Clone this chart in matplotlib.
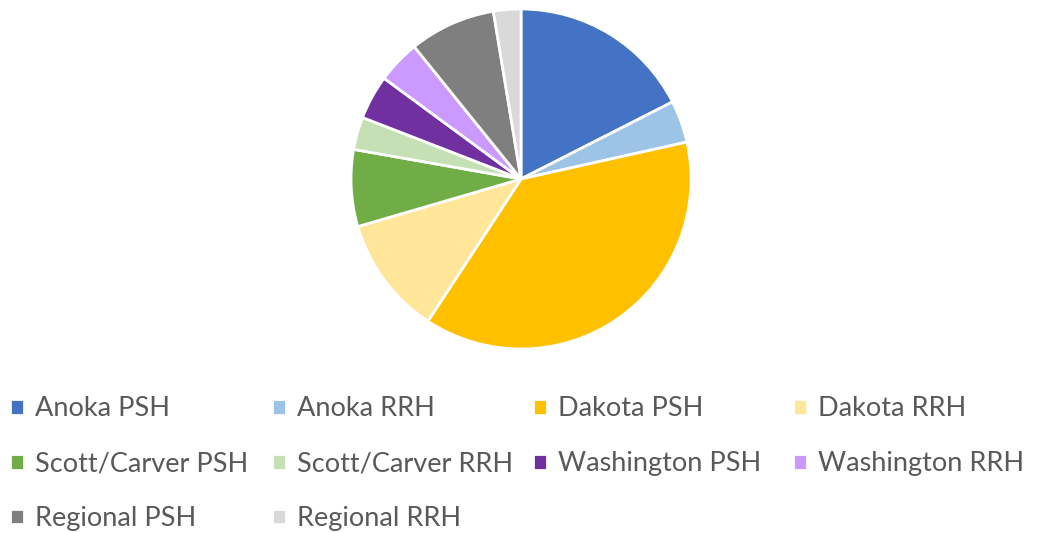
import matplotlib
matplotlib.use("Agg")
from matplotlib import pyplot as plt

# pie data (percent shares)
labels = ["Anoka PSH", "Anoka RRH", "Dakota PSH", "Dakota RRH",
          "Scott/Carver PSH", "Scott/Carver RRH", "Washington PSH", "Washington RRH",
          "Regional PSH", "Regional RRH"]
shares = [17.5, 4.0, 37.7, 11.25, 7.3, 3.1, 4.2, 4.1, 8.2, 2.6]
colors = ["#4472C4", "#9DC3E6", "#FFC000", "#FFE699", "#70AD47",
          "#C5E0B4", "#7030A0", "#CC99FF", "#7F7F7F", "#D9D9D9"]

plt.rcParams['font.family'] = ['Lato', 'DejaVu Sans']

fig = plt.figure(figsize=(10.4, 5.33), dpi=100)
W, H = 1040, 533
cx, cy, r = 521, 179, 170
ax = fig.add_axes([(cx - r) / W, (H - cy - r) / H, 2 * r / W, 2 * r / H])

wedges, _ = ax.pie(shares, colors=colors, startangle=90, counterclock=False,
                   wedgeprops=dict(edgecolor="white", linewidth=2))
ax.set_xlim(-1, 1)
ax.set_ylim(-1, 1)
ax.set_aspect("equal")

# legend: 4 columns, one legend per column so the columns sit evenly spaced
col_x = [10, 272, 533, 793]   # left edge of the marker, px
for c in range(4):
    idx = list(range(c, len(labels), 4))
    leg = fig.legend([wedges[i] for i in idx], [labels[i] for i in idx],
                     loc="upper left", bbox_to_anchor=(col_x[c] / W, 1 - 396.5 / H),
                     frameon=False, fontsize=19.5, handlelength=0.52,
                     handleheight=0.52, handletextpad=0.4, labelspacing=1.1,
                     borderpad=0, borderaxespad=0)
    for t in leg.get_texts():
        t.set_color("#595959")

fig.savefig("out.png", dpi=100)
